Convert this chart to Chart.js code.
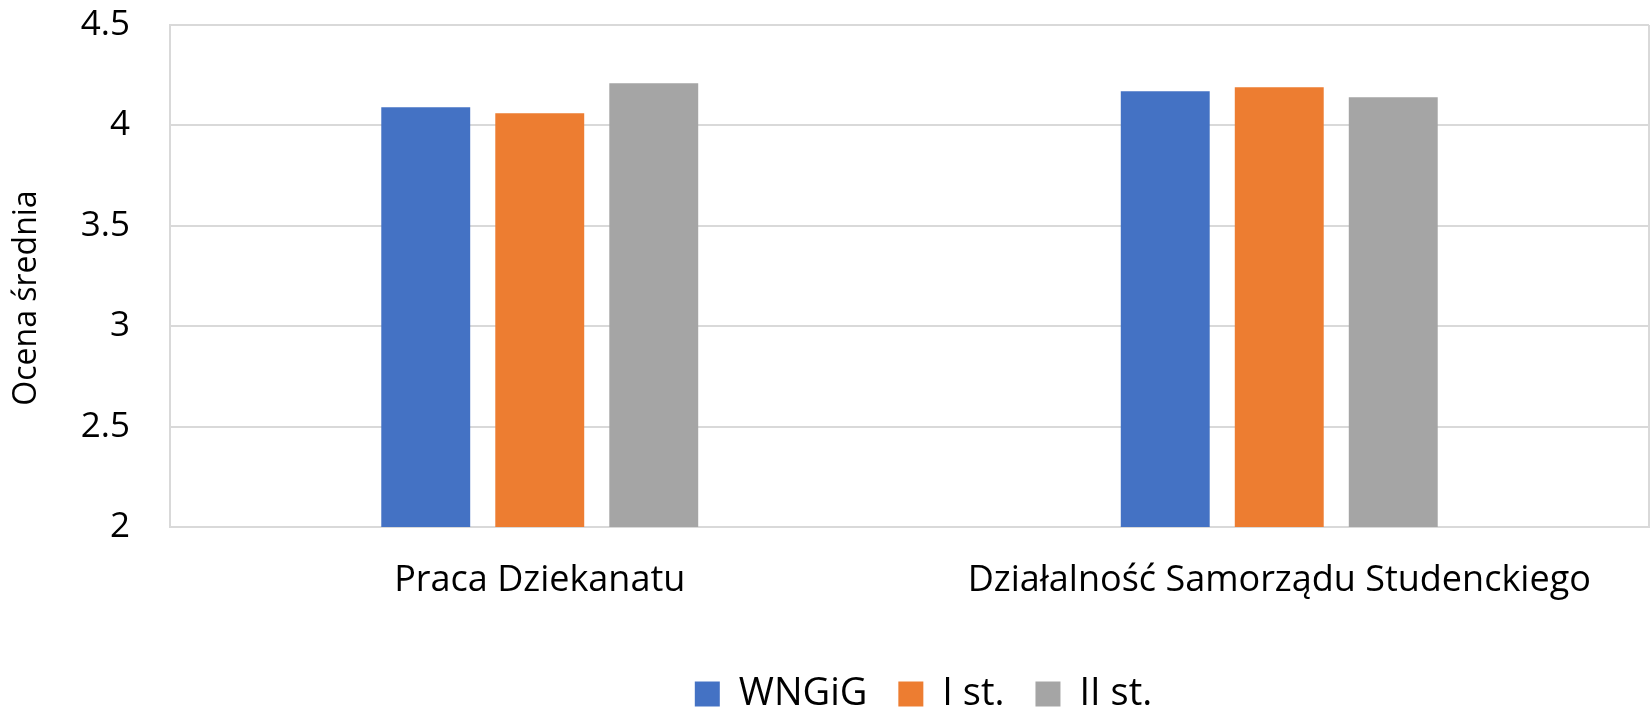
<!DOCTYPE html>
<html>
<head>
<meta charset="utf-8">
<script src="https://cdn.jsdelivr.net/npm/chart.js@4/dist/chart.umd.min.js"></script>
<style>
  html, body { margin: 0; padding: 0; background: #ffffff; }
  #wrap { width: 1652px; height: 710px; }
</style>
</head>
<body>
<div id="wrap"><canvas id="c" width="1652" height="710"></canvas></div>
<script>
const categories = ["Praca Dziekanatu", "Działalność Samorządu Studenckiego"];
const seriesNames = ["WNGiG", "I st.", "II st."];
const wngigValues = [4.09, 4.17];
const iStValues = [4.06, 4.19];
const iiStValues = [4.21, 4.14];
const seriesColors = ["#4472C4", "#ED7D31", "#A5A5A5"];
const yTicksMin = 2, yTicksMax = 4.5, yTicksStep = 0.5;
const yTitle = "Ocena średnia";

const FONT = "'Open Sans', 'DejaVu Sans', sans-serif";

const frame = {
  id: 'frame',
  afterInit(chart) {
    const lg = chart.legend;
    if (lg) {
      const f = lg.fit.bind(lg);
      lg.fit = function () { f(); this.height -= 13; };
      const d = lg.draw.bind(lg);
      lg.draw = function () {
        const ctx = chart.ctx;
        ctx.save(); ctx.translate(14, 0); d(); ctx.restore();
      };
    }
  },
  beforeDraw(chart) {
    const y = chart.scales.y;
    if (y && !y._titleShifted) {
      const dt = y.drawTitle.bind(y);
      y.drawTitle = function () {
        const ctx = chart.ctx;
        ctx.save(); ctx.translate(0, 22); dt(); ctx.restore();
      };
      y._titleShifted = true;
    }
  },
  afterDraw(chart) {
    const a = chart.chartArea, ctx = chart.ctx;
    ctx.save();
    ctx.strokeStyle = '#d9d9d9';
    ctx.lineWidth = 2;
    ctx.beginPath();
    ctx.moveTo(a.right, a.top);
    ctx.lineTo(a.right, a.bottom);
    ctx.stroke();
    ctx.restore();
  }
};

new Chart(document.getElementById('c'), {
  type: 'bar',
  data: {
    labels: categories,
    datasets: [
      { label: seriesNames[0], data: wngigValues, backgroundColor: seriesColors[0] },
      { label: seriesNames[1], data: iStValues, backgroundColor: seriesColors[1] },
      { label: seriesNames[2], data: iiStValues, backgroundColor: seriesColors[2] }
    ]
  },
  options: {
    responsive: false,
    devicePixelRatio: 1,
    animation: false,
    datasets: { bar: { categoryPercentage: 0.4625, barPercentage: 0.78 } },
    layout: { padding: { top: 25, right: 3, left: 0, bottom: 0 } },
    plugins: {
      tooltip: { enabled: false },
      legend: {
        position: 'bottom',
        fullSize: false,
        labels: {
          boxWidth: 25, boxHeight: 25, padding: 31,
          color: '#000', font: { family: FONT, size: 38 }
        }
      }
    },
    scales: {
      x: {
        grid: { display: false, drawTicks: false },
        border: { display: true, color: '#d9d9d9', width: 2 },
        ticks: { color: '#000', font: { family: FONT, size: 36 }, padding: 32, maxRotation: 0 },
        afterFit(s) { s.height = 117; }
      },
      y: {
        min: yTicksMin, max: yTicksMax,
        ticks: { stepSize: yTicksStep, color: '#000', font: { family: FONT, size: 35 }, padding: 40,
                 callback: (v) => String(v) },
        grid: { color: '#d9d9d9', lineWidth: 2, drawTicks: false },
        border: { display: true, color: '#d9d9d9', width: 2 },
        title: { display: true, text: yTitle, color: '#000', font: { family: FONT, size: 32 }, padding: { top: 8, bottom: 0 } },
        afterFit(s) { s.width = 170; s.paddingTop = 0; s.paddingBottom = 0; }
      }
    }
  },
  plugins: [frame]
});
</script>
</body>
</html>
